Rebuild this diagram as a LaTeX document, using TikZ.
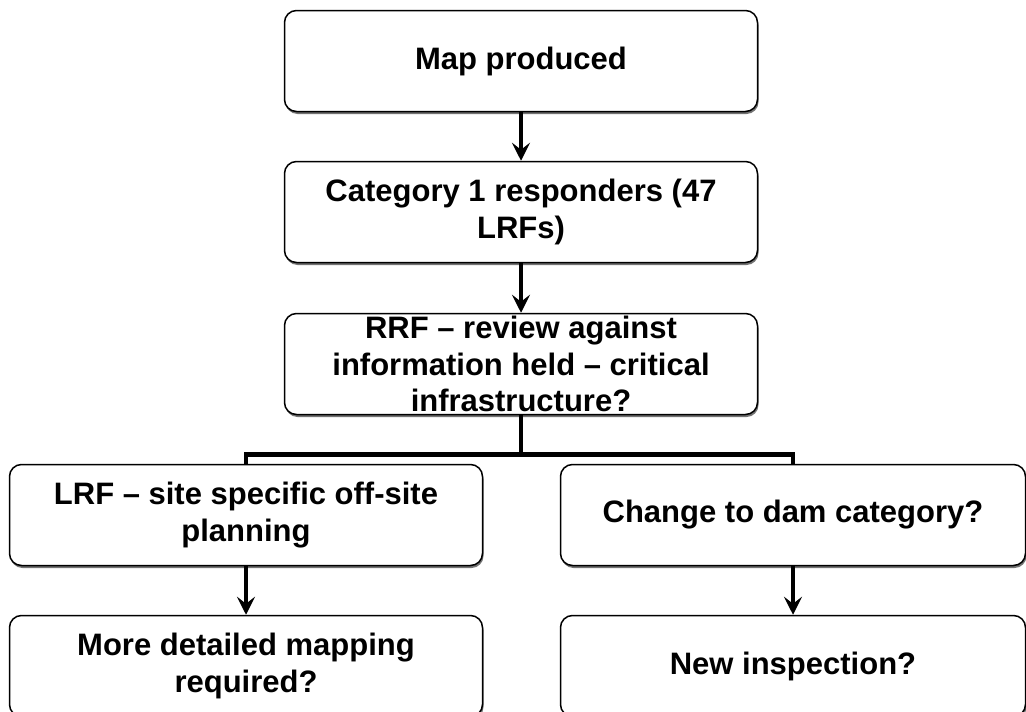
\documentclass[tikz,border=0pt]{standalone}
\usepackage{fontspec}
\setmainfont{Liberation Sans}
\usetikzlibrary{arrows.meta,shadows}

\begin{document}
\begin{tikzpicture}[x = 1pt, y = -1pt,
  stage/.style = {draw, line width = 1.5pt, rounded corners = 12pt, fill = white,
                  align = center, inner sep = 0pt,
                  font = \fontsize{31}{36.5}\selectfont\bfseries,
                  drop shadow = {shadow xshift = 1pt, shadow yshift = -2.5pt,
                                 fill = black!55, opacity = 1}},
  wide/.style = {stage, minimum width = 473pt, minimum height = 101pt},
  link/.style = {line width = 4.5pt},
  flow/.style = {link, -{Stealth[length = 18pt, width = 18pt, inset = 7pt]}}]

\useasboundingbox (0, 0) rectangle (1026, 712);
\clip (0, 0) rectangle (1026, 712);

% the chain down the middle
\node[wide] (map)      at (521, 61)  {Map produced};
\node[wide] (category) at (521, 212) {Category 1 responders (47\\LRFs)};
\node[wide] (review)   at (521, 364) {RRF -- review against\\information held -- critical\\infrastructure?};

% the two branches
\node[wide] (local)   at (246, 515) {LRF -- site specific off-site\\planning};
\node[wide, minimum width = 465pt] (damcat) at (793, 515) {Change to dam category?};
\node[wide] (mapping) at (246, 666) {More detailed mapping\\required?};
\node[wide, minimum width = 465pt] (inspect) at (793, 666) {New inspection?};

% connectors
\draw[flow] (map) -- (category);
\draw[flow] (category) -- (review);
\draw[link] (review.south) -- ++(0, 39) coordinate (split);
\draw[link] (split) -| (local.north);
\draw[link] (split) -| (damcat.north);
\draw[flow] (local) -- (mapping);
\draw[flow] (damcat) -- (inspect);

\end{tikzpicture}
\end{document}
